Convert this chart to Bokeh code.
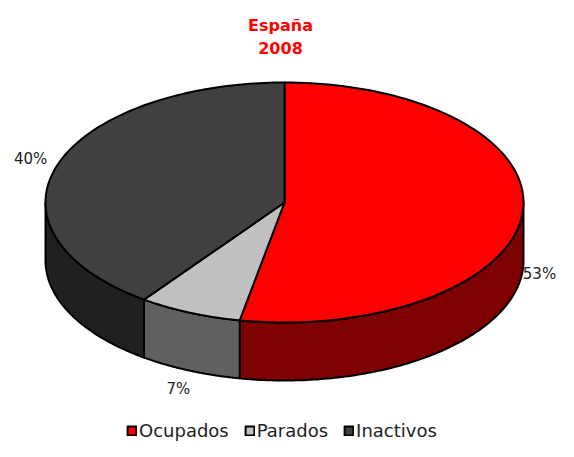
import numpy as np
from bokeh.plotting import figure
from bokeh.models import Range1d, Legend, LegendItem, Label, ColumnDataSource
from bokeh.embed import file_html
from bokeh.resources import INLINE
from bokeh.core.properties import value

# ---- data ----
title_lines = ["España", "2008"]
categories = ["Ocupados", "Parados", "Inactivos"]
shares = [53, 7, 40]
pct_labels = ["53%", "7%", "40%"]
top_colors = ["#FF0000", "#C0C0C0", "#404040"]
side_colors = ["#7F0000", "#606060", "#202020"]

# ---- layout ----
W, H = 558, 441
CX, CY, A, B, D = 284, 202, 239, 120, 58
FONT = "DejaVu Sans"

p = figure(width=W, height=H, x_range=Range1d(0, W), y_range=Range1d(H, 0),
           output_backend="svg", toolbar_location=None, min_border=0,
           x_axis_location=None, y_axis_location=None)
p.grid.visible = False
p.outline_line_color = None
p.background_fill_color = "white"


def arc(t0, t1, dy=0.0, n=120):
    ts = np.radians(np.linspace(t0, t1, n))
    return list(CX + A * np.sin(ts)), list(CY - B * np.cos(ts) + dy)


total = float(sum(shares))
bounds = np.concatenate([[0.0], np.cumsum(shares) / total * 360.0])

# side walls (front half only)
for i in range(len(shares)):
    s, e = max(bounds[i], 90.0), min(bounds[i + 1], 270.0)
    if s < e:
        xt, yt = arc(s, e)
        xb, yb = arc(s, e, D)
        p.patch(xt + xb[::-1], yt + yb[::-1], fill_color=side_colors[i],
                line_color="black", line_width=2, line_join="round")

# top slices
tops = []
for i in range(len(shares)):
    xa, ya = arc(bounds[i], bounds[i + 1])
    r = p.patch([CX] + xa, [CY] + ya, fill_color=top_colors[i],
                line_color="black", line_width=2, line_join="round")
    tops.append(r)

# percentage labels (kept inside the canvas)
mids = np.radians((bounds[:-1] + bounds[1:]) / 2)
lx = CX + (A + 28) * np.sin(mids)
lx = np.clip(lx, 20, W - 19)
ly = CY - (B + 20) * np.cos(mids) + np.where(np.cos(mids) < 0, D, 0)
src = ColumnDataSource(dict(x=lx, y=ly, t=pct_labels))
p.text("x", "y", text="t", source=src, text_align="center", text_baseline="middle",
       text_font=value(FONT), text_font_size="15px", text_color="#222222")

# title
for j, line in enumerate(title_lines):
    p.add_layout(Label(x=280, y=25 + 22 * j, text=line, text_align="center",
                       text_baseline="middle", text_color="#FF0000",
                       text_font=FONT, text_font_size="16px", text_font_style="bold"))

legend = Legend(items=[LegendItem(label=c, renderers=[r]) for c, r in zip(categories, tops)],
                orientation="horizontal", location=(126, 0), padding=0, margin=0,
                spacing=15, label_standoff=2, glyph_width=11, glyph_height=11,
                border_line_color=None, background_fill_alpha=0,
                label_text_font=FONT, label_text_font_size="18px",
                label_text_color="#222222")
p.add_layout(legend)

open("out.html", "w").write(file_html(p, INLINE))
